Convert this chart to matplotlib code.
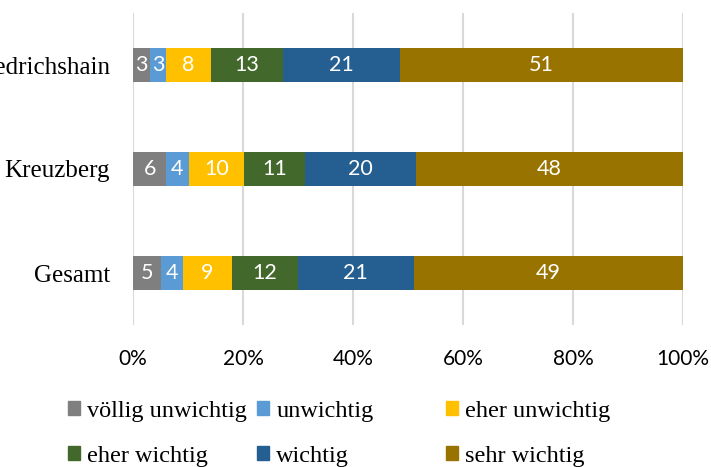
import matplotlib.pyplot as plt
from matplotlib.patches import Patch

categories = ['Gesamt', 'Kreuzberg', 'Friedrichshain']
series = ['völlig unwichtig', 'unwichtig', 'eher unwichtig',
          'eher wichtig', 'wichtig', 'sehr wichtig']
values = {
    'völlig unwichtig': [5, 6, 3],
    'unwichtig':        [4, 4, 3],
    'eher unwichtig':   [9, 10, 8],
    'eher wichtig':     [12, 11, 13],
    'wichtig':          [21, 20, 21],
    'sehr wichtig':     [49, 48, 51],
}
colors = ['#7f7f7f', '#5b9bd5', '#ffc000', '#43682b', '#255e91', '#997300']
xticks = [0, 20, 40, 60, 80, 100]

label_font = 'Liberation Serif'
num_font = 'Lato'

fig = plt.figure(figsize=(7.11, 4.67), dpi=100)
ax = fig.add_axes([133 / 711, 1 - 325 / 467, 550 / 711, 312 / 467])

totals = [sum(values[s][i] for s in series) for i in range(len(categories))]
left = [0.0] * len(categories)
for s, c in zip(series, colors):
    widths = [v / t * 100 for v, t in zip(values[s], totals)]
    bars = ax.barh(range(len(categories)), widths, left=left, height=0.32,
                   color=c, zorder=3)
    for b, v in zip(bars, values[s]):
        ax.text(b.get_x() + b.get_width() / 2, b.get_y() + b.get_height() / 2,
                str(v), ha='center', va='center', color='white',
                fontsize=15.5, family=num_font, zorder=4)
    left = [l + w for l, w in zip(left, widths)]

ax.set_xlim(0, 100)
ax.set_ylim(-0.5, 2.5)
ax.set_xticks(xticks)
ax.set_xticklabels([f'{x}%' for x in xticks], fontsize=15, family=num_font)
ax.set_yticks(range(len(categories)))
ax.set_yticklabels(categories, fontsize=18, family=label_font)
ax.tick_params(axis='y', length=0, pad=16.5)
ax.tick_params(axis='x', length=0, pad=17)
ax.grid(axis='x', color='#d9d9d9', linewidth=1.5, zorder=0)
for sp in ax.spines.values():
    sp.set_visible(False)

# legend, three columns, filled row by row
col_x = [68, 257, 446]
for j in range(3):
    handles = [Patch(color=colors[j]), Patch(color=colors[j + 3])]
    labels = [series[j], series[j + 3]]
    fig.legend(handles, labels, loc='upper left',
               bbox_to_anchor=(col_x[j] / 711, 1 - 401 / 467),
               frameon=False, prop={'family': label_font, 'size': 17.5},
               handlelength=0.5, handleheight=0.5, handletextpad=0.3,
               labelspacing=0.98, borderpad=0, borderaxespad=0)

fig.savefig('out.png', dpi=100)
